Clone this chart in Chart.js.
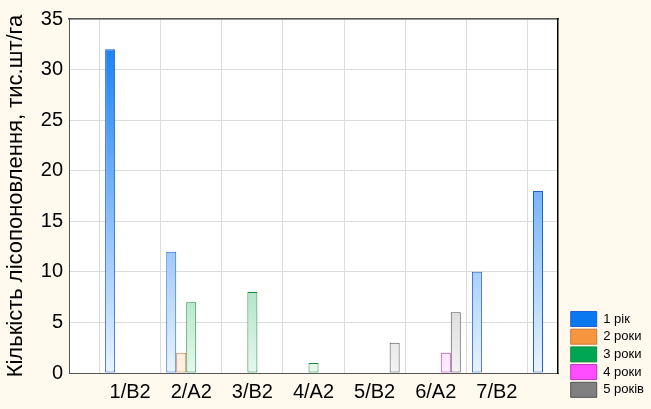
<!DOCTYPE html>
<html>
<head>
<meta charset="utf-8">
<script src="https://cdn.jsdelivr.net/npm/chart.js@4.4.1/dist/chart.umd.min.js"></script>
<style>
  html, body { margin: 0; padding: 0; background: #fff9ee; }
  #wrap { width: 651px; height: 409px; position: relative; overflow: hidden; }
</style>
</head>
<body>
<div id="wrap"><canvas id="chart"></canvas></div>
<script>
// categories on the x axis (the 8th slot has no label in the picture)
var categories = ['1/B2', '2/A2', '3/B2', '4/A2', '5/B2', '6/A2', '7/B2', ''];

// series, one value per category
var seriesNames = ['1 рік', '2 роки', '3 роки', '4 роки', '5 років'];
var rik1   = [32, 12, 0, 0, 0, 0, 10, 18];
var roky2  = [0, 2, 0, 0, 0, 0, 0, 0];
var roky3  = [0, 7, 8, 1, 0, 0, 0, 0];
var roky4  = [0, 0, 0, 0, 0, 2, 0, 0];
var rokiv5 = [0, 0, 0, 0, 3, 6, 0, 0];

var yTicks = [0, 5, 10, 15, 20, 25, 30, 35];

var seriesValues = [rik1, roky2, roky3, roky4, rokiv5];
var topColors    = ['#0a78f0', '#f7963f', '#00a651', '#ff4dff', '#808080'];
var bottomColors = ['#eaf4ff', '#fff3e8', '#e8f7ee', '#ffeeff', '#f3f3f3'];
var borderColors = ['#1f5fcf', '#c8783a', '#1a8a3a', '#c030c0', '#505050'];

var FONT = "'Liberation Sans', Arial, sans-serif";

var datasets = [];
for (var i = 0; i < seriesValues.length; i++) {
    datasets.push({
        label: seriesNames[i],
        data: seriesValues[i].map(function(v, j) { return {x: j + 1, y: v}; }),
        backgroundColor: topColors[i],
        borderColor: borderColors[i],
        borderWidth: 1,
        borderSkipped: false,
        inflateAmount: 0,
        barThickness: 10
    });
}

// white plot area + vertical gradients once the chart area is known
var plotBg = {
    id: 'plotBg',
    afterLayout: function(chart) {
        var a = chart.chartArea;
        chart.data.datasets.forEach(function(ds, k) {
            var g = chart.ctx.createLinearGradient(0, a.top, 0, a.bottom);
            g.addColorStop(0, topColors[k]);
            g.addColorStop(1, bottomColors[k]);
            ds.backgroundColor = g;
        });
    },
    beforeDraw: function(chart) {
        var a = chart.chartArea;
        chart.ctx.save();
        chart.ctx.fillStyle = '#ffffff';
        chart.ctx.fillRect(a.left, a.top, a.right - a.left, a.bottom - a.top);
        chart.ctx.restore();
    }
};

new Chart(document.getElementById('chart'), {
    type: 'bar',
    data: { datasets: datasets },
    plugins: [plotBg],
    options: {
        responsive: true,
        maintainAspectRatio: false,
        animation: false,
        layout: { padding: { top: 19, bottom: 9, right: -3, left: 0 } },
        plugins: {
            tooltip: { enabled: false },
            legend: {
                position: 'right',
                align: 'end',
                labels: {
                    boxWidth: 26,
                    boxHeight: 15,
                    padding: 2.7,
                    color: '#000',
                    font: { family: FONT, size: 13 },
                    generateLabels: function(chart) {
                        return seriesNames.map(function(n, k) {
                            return {
                                text: n,
                                fillStyle: topColors[k],
                                strokeStyle: borderColors[k],
                                lineWidth: 1,
                                datasetIndex: k
                            };
                        });
                    }
                }
            }
        },
        scales: {
            x: {
                type: 'linear',
                min: 0,
                max: 8,
                offset: false,
                afterFit: function(s) { s.height = 27; },
                afterBuildTicks: function(s) {
                    s.ticks = [0, 1, 2, 3, 4, 5, 6, 7, 8].map(function(v) { return {value: v}; });
                },
                ticks: {
                    autoSkip: false,
                    maxRotation: 0,
                    padding: 7,
                    color: '#000',
                    font: { family: FONT, size: 20 },
                    callback: function(v) { return v >= 1 ? categories[v - 1] : ''; }
                },
                grid: { color: '#dcdcdc', drawTicks: false },
                border: { color: '#555', width: 1 }
            },
            x2: {
                type: 'linear',
                position: 'top',
                min: 0,
                max: 8,
                afterFit: function(s) { s.height = 0; },
                ticks: { display: false },
                grid: { display: false },
                border: { color: '#555', width: 1.5 }
            },
            y: {
                min: 0,
                max: 35,
                afterFit: function(s) { s.width = 69; },
                afterBuildTicks: function(s) {
                    s.ticks = yTicks.map(function(v) { return {value: v}; });
                },
                ticks: {
                    padding: 6,
                    color: '#000',
                    font: { family: FONT, size: 20 }
                },
                grid: { color: '#dcdcdc', drawTicks: false },
                border: { color: '#555', width: 1 },
                title: {
                    display: true,
                    text: 'Кількість лісопоновлення, тис.шт/га',
                    color: '#000',
                    font: { family: FONT, size: 22 },
                    padding: { top: 3, bottom: 0 }
                }
            },
            y2: {
                position: 'right',
                min: 0,
                max: 35,
                afterFit: function(s) { s.width = 10; },
                ticks: { display: false },
                grid: { display: false },
                border: { color: '#000', width: 1.5 }
            }
        }
    }
});
</script>
</body>
</html>
